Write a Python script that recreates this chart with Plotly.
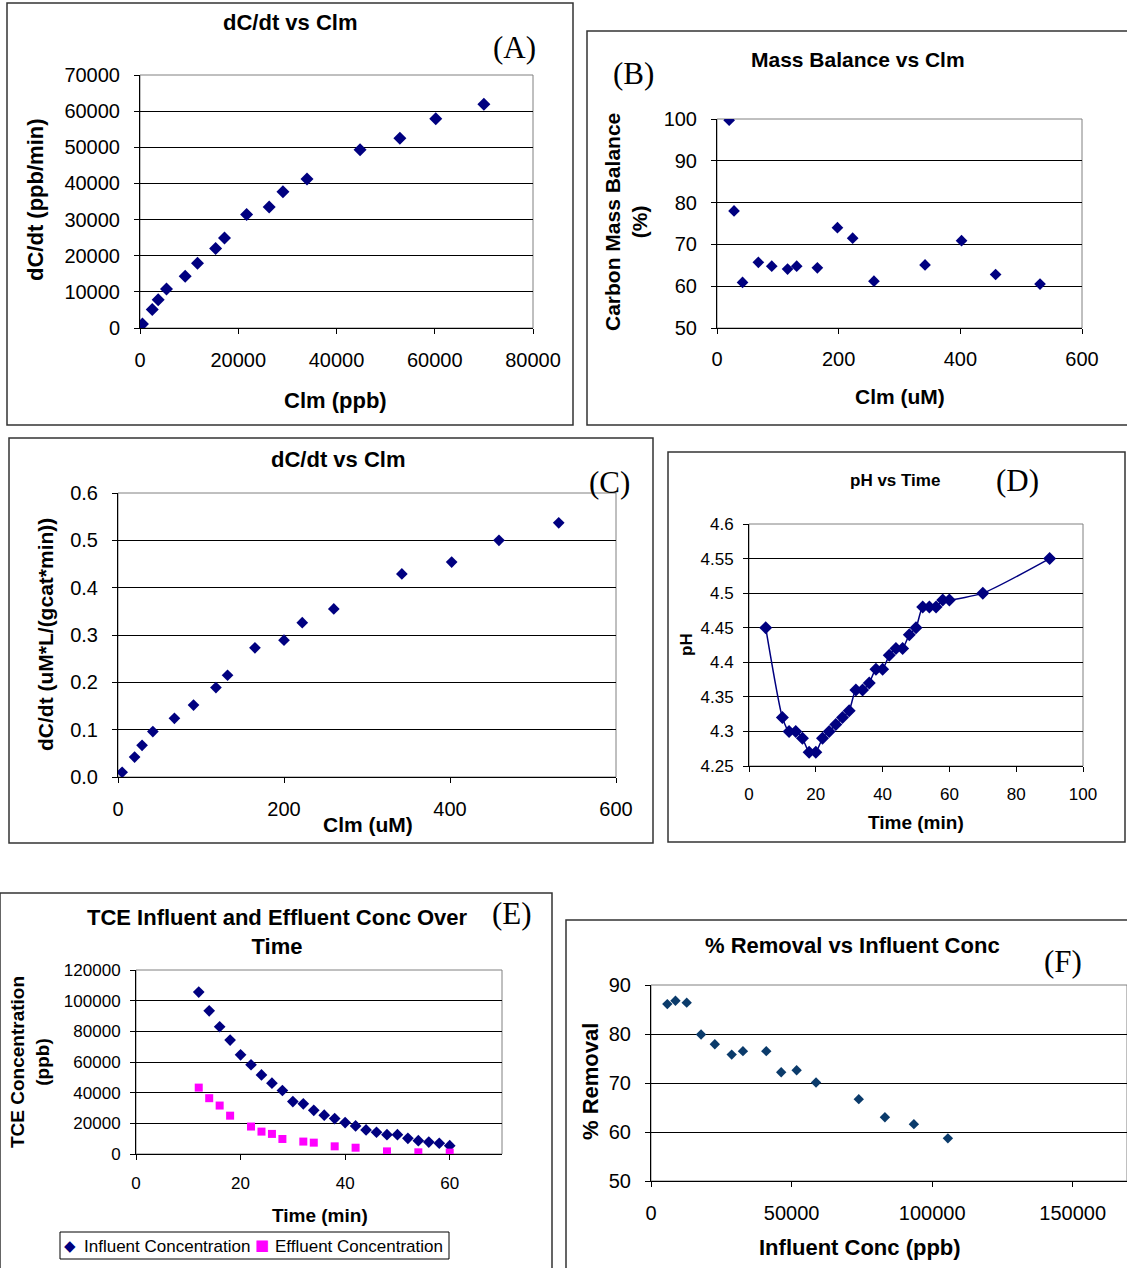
import plotly.graph_objects as go

W, H = 1127, 1268

# ---------------- data ----------------
A_clm_ppb = [500, 2500, 3700, 5400, 9200, 11700, 15400, 17200, 21700, 26300, 29100, 34000, 44800, 52900, 60200, 70000]
A_rate = [1100, 5100, 7800, 10800, 14300, 17900, 22000, 24900, 31400, 33500, 37700, 41200, 49300, 52500, 57900, 61900]

B_clm_um = [20, 28, 42, 68, 90, 116, 131, 165, 198, 223, 258, 342, 402, 458, 531]
B_balance = [99.7, 78.0, 60.9, 65.7, 64.8, 64.1, 64.8, 64.4, 74.0, 71.5, 61.2, 65.1, 70.9, 62.8, 60.5]

C_clm_um = [5, 20, 29, 42, 68, 91, 118, 132, 165, 200, 222, 260, 342, 402, 459, 531]
C_rate = [0.010, 0.042, 0.067, 0.096, 0.124, 0.152, 0.189, 0.215, 0.273, 0.289, 0.326, 0.355, 0.429, 0.454, 0.500, 0.537]

D_time = [5, 10, 12, 14, 16, 18, 20, 22, 24, 26, 28, 30, 32, 34, 36, 38, 40, 42, 44, 46, 48, 50, 52, 54, 56, 58, 60, 70, 90]
D_ph = [4.45, 4.32, 4.30, 4.30, 4.29, 4.27, 4.27, 4.29, 4.30, 4.31, 4.32, 4.33, 4.36, 4.36, 4.37, 4.39, 4.39,
        4.41, 4.42, 4.42, 4.44, 4.45, 4.48, 4.48, 4.48, 4.49, 4.49, 4.50, 4.55]

E_time_in = [12, 14, 16, 18, 20, 22, 24, 26, 28, 30, 32, 34, 36, 38, 40, 42, 44, 46, 48, 50, 52, 54, 56, 58, 60]
E_influent = [105600, 93400, 83000, 74300, 64700, 58200, 51600, 46200, 41400, 34200, 32700, 28500, 25300, 23100,
              20500, 18300, 15700, 14200, 12600, 12600, 10200, 8700, 7800, 7000, 5400]
E_time_eff = [12, 14, 16, 18, 22, 24, 26, 28, 32, 34, 38, 42, 48, 54, 60]
E_effluent = [43300, 36400, 31600, 25000, 17900, 14600, 13100, 9800, 8100, 7400, 5000, 4100, 1700, 1100, 900]

F_influent = [5800, 8700, 12700, 17800, 22700, 28700, 32700, 41000, 46300, 51800, 58700, 73900, 83200, 93500, 105600]
F_removal = [86.1, 86.8, 86.4, 79.9, 77.9, 75.8, 76.5, 76.5, 72.2, 72.6, 70.1, 66.7, 63.0, 61.6, 58.7]

A_xticks = [0, 20000, 40000, 60000, 80000]
A_yticks = [0, 10000, 20000, 30000, 40000, 50000, 60000, 70000]
B_xticks = [0, 200, 400, 600]
B_yticks = [50, 60, 70, 80, 90, 100]
C_xticks = [0, 200, 400, 600]
C_yticks = [0.0, 0.1, 0.2, 0.3, 0.4, 0.5, 0.6]
D_xticks = [0, 20, 40, 60, 80, 100]
D_yticks = [4.25, 4.3, 4.35, 4.4, 4.45, 4.5, 4.55, 4.6]
E_xticks = [0, 20, 40, 60]
E_yticks = [0, 20000, 40000, 60000, 80000, 100000, 120000]
F_xticks = [0, 50000, 100000, 150000]
F_yticks = [50, 60, 70, 80, 90]

E_legend_names = ["Influent Concentration", "Effluent Concentration"]

# ---------------- helpers ----------------
SANS = "Liberation Sans, Arial, sans-serif"
SERIF = "Liberation Serif, Times New Roman, serif"
NAVY = "#000080"
MAGENTA = "#FF00FF"


def px_x(p):
    return p / W


def px_y(p):
    return 1 - p / H


fig = go.Figure()
layout = {}
shapes = []
annots = []


def add_axes(i, x0, x1, y0, y1, xr, yr, xt, yt, tick_size, xstand, ystand, yfmt=None):
    xa = "xaxis" if i == 1 else f"xaxis{i}"
    ya = "yaxis" if i == 1 else f"yaxis{i}"
    xid = "x" if i == 1 else f"x{i}"
    yid = "y" if i == 1 else f"y{i}"
    common = dict(showline=True, linecolor="black", linewidth=1, ticks="outside", ticklen=5,
                  tickcolor="black", tickwidth=1, zeroline=False, mirror=False, automargin=False,
                  tickfont=dict(family=SANS, size=tick_size, color="black"), fixedrange=True)
    layout[xa] = dict(domain=[px_x(x0), px_x(x1)], anchor=yid, range=xr, tickmode="array", tickvals=xt,
                      ticktext=[str(v) for v in xt], ticklabelstandoff=xstand,
                      showgrid=False, **common)
    layout[ya] = dict(domain=[px_y(y1), px_y(y0)], anchor=xid, range=yr, tickmode="array", tickvals=yt,
                      ticktext=[yfmt.format(v) if yfmt else str(v) for v in yt], ticklabelstandoff=ystand,
                      showgrid=True, gridcolor="black", gridwidth=1, **common)
    shapes.append(dict(type="rect", xref=f"{xid} domain", yref=f"{yid} domain", x0=0, x1=1, y0=0, y1=1,
                       line=dict(color="#808080", width=1), layer="below"))
    return xid, yid


def frame(x0, y0, x1, y1):
    shapes.append(dict(type="rect", xref="paper", yref="paper", x0=px_x(x0), x1=px_x(x1), y0=px_y(y1), y1=px_y(y0),
                       line=dict(color="#333333", width=1.5), layer="below"))


def text(x, y, s, size, bold=True, angle=0, family=SANS, xanchor="center", color="black"):
    if bold:
        s = f"<b>{s}</b>"
    annots.append(dict(xref="paper", yref="paper", x=px_x(x), y=px_y(y), text=s, showarrow=False,
                       xanchor=xanchor, yanchor="middle", textangle=angle,
                       font=dict(family=family, size=size, color=color)))


# ---------------- panel frames ----------------
frame(7, 3, 573, 425)
frame(587, 31, 1140, 425)
frame(9, 438, 653, 843)
frame(668, 452, 1125, 842)
frame(0, 893, 552, 1280)
frame(566, 920, 1140, 1280)

TITLE = 22
LBL = 31

# ---------------- A ----------------
xa, ya = add_axes(1, 140, 533, 75, 328, [0, 80000], [0, 70000], A_xticks, A_yticks, 20, 9, 10)
fig.add_trace(go.Scatter(x=A_clm_ppb, y=A_rate, mode="markers", xaxis=xa, yaxis=ya, showlegend=False,
                         marker=dict(symbol="diamond", size=10, color=NAVY)))
text(290, 23, "dC/dt vs Clm", TITLE)
text(514, 48, "(A)", LBL, bold=False, family=SERIF)
text(35, 200, "dC/dt (ppb/min)", TITLE, angle=-90)
text(335, 400, "Clm (ppb)", TITLE)

# ---------------- B ----------------
xa, ya = add_axes(2, 717, 1082, 119, 328, [0, 600], [50, 100], B_xticks, B_yticks, 20, 8, 10)
fig.add_trace(go.Scatter(x=B_clm_um, y=B_balance, mode="markers", xaxis=xa, yaxis=ya, showlegend=False,
                         marker=dict(symbol="diamond", size=9, color=NAVY)))
text(858, 59, "Mass Balance vs Clm", 21)
text(633, 74, "(B)", LBL, bold=False, family=SERIF)
text(626, 222, "Carbon Mass Balance<br>(%)", 21, angle=-90)
text(900, 396, "Clm (uM)", 21)

# ---------------- C ----------------
xa, ya = add_axes(3, 118, 616, 493, 777, [0, 600], [0, 0.6], C_xticks, C_yticks, 20, 9, 10, yfmt="{:.1f}")
fig.add_trace(go.Scatter(x=C_clm_um, y=C_rate, mode="markers", xaxis=xa, yaxis=ya, showlegend=False,
                         marker=dict(symbol="diamond", size=9, color=NAVY)))
text(338, 460, "dC/dt vs Clm", TITLE)
text(609, 482, "(C)", LBL, bold=False, family=SERIF)
text(45, 635, "dC/dt (uM*L/(gcat*min))", 21, angle=-90)
text(368, 825, "Clm (uM)", 21)

# ---------------- D ----------------
xa, ya = add_axes(4, 749, 1083, 524, 766, [0, 100], [4.25, 4.6], D_xticks, D_yticks, 17, 8, 6)
fig.add_trace(go.Scatter(x=D_time, y=D_ph, mode="lines+markers", xaxis=xa, yaxis=ya, showlegend=False,
                         line=dict(color=NAVY, width=1.5, shape="spline", smoothing=0.6),
                         marker=dict(symbol="diamond", size=10, color=NAVY)))
text(895, 481, "pH vs Time", 17)
text(1017, 481, "(D)", LBL, bold=False, family=SERIF)
text(687, 645, "pH", 17, angle=-90)
text(916, 822, "Time (min)", 19)

# ---------------- E ----------------
xa, ya = add_axes(5, 136, 502, 970, 1154, [0, 70], [0, 120000], E_xticks, E_yticks, 17, 9, 6)
fig.add_trace(go.Scatter(x=E_time_in, y=E_influent, mode="markers", xaxis=xa, yaxis=ya,
                         name=E_legend_names[0], showlegend=False,
                         marker=dict(symbol="diamond", size=9, color=NAVY)))
fig.add_trace(go.Scatter(x=E_time_eff, y=E_effluent, mode="markers", xaxis=xa, yaxis=ya,
                         name=E_legend_names[1], showlegend=False,
                         marker=dict(symbol="square", size=8, color=MAGENTA)))
text(277, 932, "TCE Influent and Effluent Conc Over<br>Time", TITLE)
text(512, 913, "(E)", LBL, bold=False, family=SERIF)
text(30, 1062, "TCE Concentration<br>(ppb)", 19, angle=-90)
text(320, 1215, "Time (min)", 19)
# legend box (Excel style)
shapes.append(dict(type="rect", xref="paper", yref="paper", x0=px_x(60), x1=px_x(449), y0=px_y(1259),
                   y1=px_y(1232), line=dict(color="black", width=1), fillcolor="white", layer="below"))
text(70, 1246, "◆", 15, bold=False, family="DejaVu Sans", color=NAVY)
text(82, 1246, E_legend_names[0], 17, bold=False, xanchor="left")
text(262, 1245, "■", 15, bold=False, family="DejaVu Sans", color=MAGENTA)
text(273, 1246, E_legend_names[1], 17, bold=False, xanchor="left")

# ---------------- F ----------------
xa, ya = add_axes(6, 651, 1127, 985, 1181, [0, 169300], [50, 90], F_xticks, F_yticks, 20, 9, 10)
fig.add_trace(go.Scatter(x=F_influent, y=F_removal, mode="markers", xaxis=xa, yaxis=ya, showlegend=False,
                         marker=dict(symbol="diamond", size=8, color="#0B3B6B")))
text(852, 945, "% Removal vs Influent Conc", TITLE)
text(1063, 962, "(F)", LBL, bold=False, family=SERIF)
text(590, 1082, "% Removal", TITLE, angle=-90)
text(860, 1247, "Influent Conc (ppb)", TITLE)

fig.update_layout(
    template="none",
    width=W, height=H, margin=dict(l=0, r=0, t=0, b=0, pad=0, autoexpand=False),
    paper_bgcolor="white", plot_bgcolor="white",
    shapes=shapes, annotations=annots,
    showlegend=False,
    **layout,
)

fig.write_html("out.html", config={"displayModeBar": False, "staticPlot": True},
               post_script="document.body.style.margin='0';")
